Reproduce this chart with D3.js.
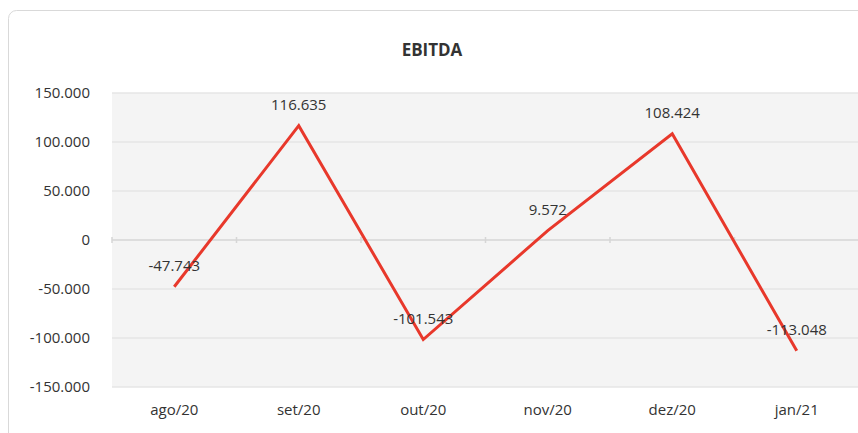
<!DOCTYPE html>
<html>
<head>
<meta charset="utf-8">
<script src="https://cdn.jsdelivr.net/npm/d3@7"></script>
<style>
	body { margin: 0; background: #fff; }
	text { font-family: "Open Sans", "Liberation Sans", sans-serif; fill: #333; }
</style>
</head>
<body>
<svg id="chart" width="858" height="433"></svg>
<script>
"use strict";

// Chart data
const months = ["ago/20", "set/20", "out/20", "nov/20", "dez/20", "jan/21"];
const ebitda = [-47743, 116635, -101543, 9572, 108424, -113048];
const yTicks = [150000, 100000, 50000, 0, -50000, -100000, -150000];

const width = 858, height = 433;
const margin = {top: 93, right: -1, bottom: 46, left: 112};

const svg = d3.select("#chart");

// card frame
svg.append("rect")
	.attr("x", 8.5).attr("y", 10.5)
	.attr("width", 870).attr("height", 440)
	.attr("rx", 8)
	.style("fill", "#fff")
	.style("stroke", "#d9d9d9");

const x = d3.scaleBand()
	.domain(months)
	.range([margin.left, width - margin.right]);

const y = d3.scaleLinear()
	.domain([-150000, 150000])
	.range([height - margin.bottom, margin.top]);

// pt-BR style numbers: dot thousands, plain hyphen minus
const fmt = v => d3.format(",")(v).replace(/,/g, ".").replace("\u2212", "-");

// plot background
svg.append("rect")
	.attr("x", margin.left).attr("y", y(150000))
	.attr("width", width - margin.right - margin.left)
	.attr("height", y(-150000) - y(150000))
	.style("fill", "#f4f4f4");

// gridlines
svg.append("g")
	.selectAll("line")
	.data(yTicks)
	.enter()
	.append("line")
	.attr("x1", margin.left).attr("x2", width)
	.attr("y1", d => y(d)).attr("y2", d => y(d))
	.style("stroke", d => d === 0 ? "#d6d6d6" : "#e6e6e6")
	.style("stroke-width", 1.5);

// tick marks on zero line
svg.append("g")
	.selectAll("line")
	.data(months)
	.enter()
	.append("line")
	.attr("x1", d => x(d)).attr("x2", d => x(d))
	.attr("y1", y(0) - 3).attr("y2", y(0) + 3)
	.style("stroke", "#d6d6d6")
	.style("stroke-width", 1.5);

// y axis labels
svg.append("g")
	.selectAll("text")
	.data(yTicks)
	.enter()
	.append("text")
	.attr("x", 90)
	.attr("y", d => y(d))
	.attr("dy", "0.35em")
	.attr("text-anchor", "end")
	.style("font-size", "15px")
	.text(fmt);

// x axis labels
svg.append("g")
	.selectAll("text")
	.data(months)
	.enter()
	.append("text")
	.attr("x", d => x(d) + x.bandwidth() / 2)
	.attr("y", 410)
	.attr("dy", "0.35em")
	.attr("text-anchor", "middle")
	.style("font-size", "15px")
	.text(d => d);

// line
const line = d3.line()
	.x((d, i) => x(months[i]) + x.bandwidth() / 2)
	.y(d => y(d));

svg.append("path")
	.datum(ebitda)
	.attr("d", line)
	.style("fill", "none")
	.style("stroke", "#e8382b")
	.style("stroke-width", 3)
	.style("stroke-linejoin", "miter");

// data labels
svg.append("g")
	.selectAll("text")
	.data(ebitda)
	.enter()
	.append("text")
	.attr("x", (d, i) => x(months[i]) + x.bandwidth() / 2)
	.attr("y", d => y(d) - 21)
	.attr("dy", "0.35em")
	.attr("text-anchor", "middle")
	.style("font-size", "15px")
	.text(fmt);

// title
svg.append("text")
	.attr("x", 432)
	.attr("y", 50)
	.attr("dy", "0.35em")
	.attr("text-anchor", "middle")
	.style("font-size", "17px")
	.style("font-weight", "bold")
	.text("EBITDA");
</script>
</body>
</html>
